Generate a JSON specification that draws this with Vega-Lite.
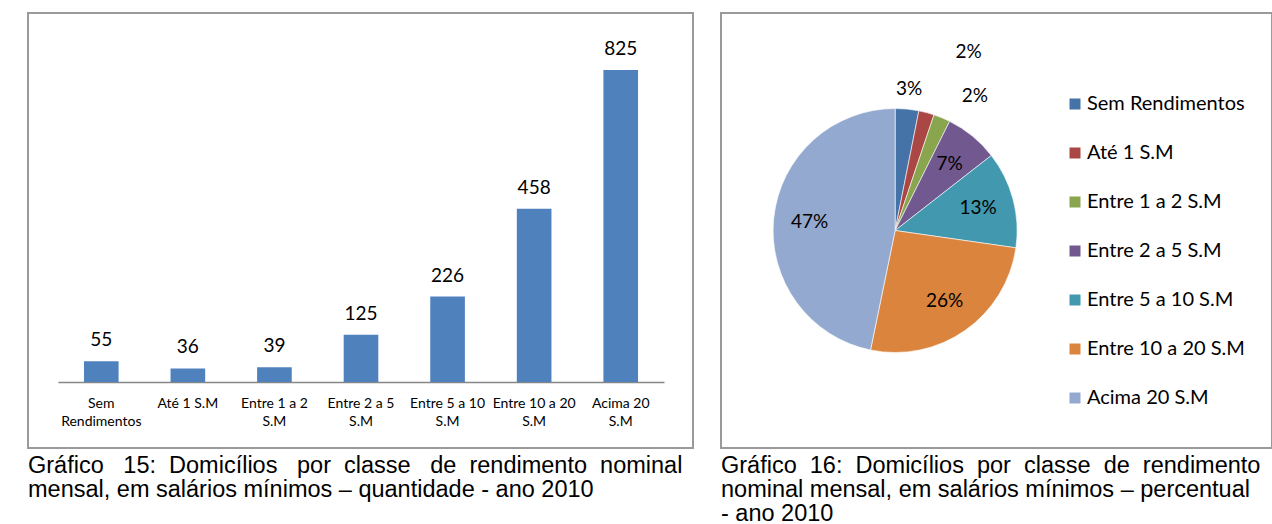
{
  "$schema": "https://vega.github.io/schema/vega-lite/v6.json",
  "padding": {"left": 27, "top": 12, "right": 0, "bottom": 0},
  "background": "white",
  "spacing": 26,
  "datasets": {
    "d": [
      {"classe": "Sem Rendimentos", "n": 55, "pct": "3%", "ord": 1},
      {"classe": "Até 1 S.M", "n": 36, "pct": "2%", "ord": 2},
      {"classe": "Entre 1 a 2 S.M", "n": 39, "pct": "2%", "ord": 3},
      {"classe": "Entre 2 a 5 S.M", "n": 125, "pct": "7%", "ord": 4},
      {"classe": "Entre 5 a 10 S.M", "n": 226, "pct": "13%", "ord": 5},
      {"classe": "Entre 10 a 20 S.M", "n": 458, "pct": "26%", "ord": 6},
      {"classe": "Acima 20 S.M", "n": 825, "pct": "47%", "ord": 7}
    ]
  },
  "config": {
    "view": {"stroke": "#9a9a9a", "strokeWidth": 2},
    "title": {"orient": "bottom", "anchor": "start", "font": "Liberation Sans", "fontSize": 23.5, "fontWeight": "normal", "color": "#000", "lineHeight": 24, "offset": 6}
  },
  "hconcat": [
    {
      "width": 665,
      "height": 435,
      "title": {"text": ["Gráfico \u00a0\u00a015: \u00a0Domicílios \u00a0\u00a0por \u00a0classe \u00a0\u00a0de \u00a0rendimento \u00a0nominal", "mensal, em salários mínimos – quantidade - ano 2010"]},
      "data": {"name": "d"},
      "encoding": {
        "x": {
          "field": "classe", "type": "nominal", "sort": null,
          "scale": {"range": [30, 636], "paddingInner": 0.6, "paddingOuter": 0.3},
          "axis": {
            "title": null, "orient": "bottom", "offset": -66, "ticks": false, "tickSize": 0,
            "domainColor": "#868686", "domainWidth": 1.5,
            "labelAngle": 0, "labelFont": "Lato", "labelFontSize": 14, "labelColor": "#000",
            "labelPadding": 14, "labelLineHeight": 18, "labelBaseline": "top",
            "labelExpr": "datum.value == 'Sem Rendimentos' ? ['Sem', 'Rendimentos'] : datum.value == 'Até 1 S.M' ? datum.value : [replace(datum.value, ' S.M', ''), 'S.M']"
          }
        },
        "y": {
          "field": "n", "type": "quantitative",
          "scale": {"domain": [0, 825], "range": [369, 57], "nice": false, "zero": true},
          "axis": null
        }
      },
      "layer": [
        {"mark": {"type": "bar", "color": "#4F81BD"}},
        {
          "mark": {"type": "text", "baseline": "alphabetic", "dy": -15, "font": "Lato", "fontSize": 19, "color": "#000"},
          "encoding": {"text": {"field": "n", "type": "quantitative"}}
        }
      ]
    },
    {
      "width": 551,
      "height": 435,
      "title": {"text": ["Gráfico \u00a016: \u00a0Domicílios \u00a0por \u00a0classe \u00a0de \u00a0rendimento", "nominal mensal, em salários mínimos – percentual", "- ano 2010"]},
      "data": {"name": "d"},
      "encoding": {
        "theta": {"field": "n", "type": "quantitative", "stack": true},
        "order": {"field": "ord", "type": "quantitative"},
        "x": {"datum": 0.316, "type": "quantitative", "scale": {"domain": [0, 1], "nice": false, "zero": true}, "axis": null}
      },
      "layer": [
        {
          "mark": {"type": "arc", "outerRadius": 122, "stroke": "#ffffff", "strokeWidth": 0.6},
          "encoding": {
            "color": {
              "field": "classe", "type": "nominal",
              "scale": {
                "domain": ["Sem Rendimentos", "Até 1 S.M", "Entre 1 a 2 S.M", "Entre 2 a 5 S.M", "Entre 5 a 10 S.M", "Entre 10 a 20 S.M", "Acima 20 S.M"],
                "range": ["#4572A7", "#AA4643", "#89A54E", "#71588F", "#4198AF", "#DB843D", "#93A9CF"]
              },
              "legend": {
                "orient": "none", "legendX": 1037, "legendY": 81, "title": null,
                "symbolType": "square", "symbolSize": 121, "symbolStrokeWidth": 0,
                "labelFont": "Lato", "labelFontSize": 20, "labelColor": "#000",
                "rowPadding": 29, "labelOffset": 2, "padding": 0, "labelLimit": 300
              }
            }
          }
        },
        {
          "mark": {"type": "text", "radius": 86, "font": "Lato", "fontSize": 19, "color": "#000"},
          "encoding": {"text": {"condition": {"test": "datum.n >= 100", "field": "pct"}, "value": ""}}
        },
        {
          "mark": {"type": "text", "radius": 142, "font": "Lato", "fontSize": 19, "color": "#000"},
          "encoding": {"text": {"condition": {"test": "datum.ord == 1", "field": "pct"}, "value": ""}}
        },
        {
          "mark": {"type": "text", "radius": 185, "dx": 26, "font": "Lato", "fontSize": 19, "color": "#000"},
          "encoding": {"text": {"condition": {"test": "datum.ord == 2", "field": "pct"}, "value": ""}}
        },
        {
          "mark": {"type": "text", "radius": 140, "dx": 26, "dy": -5, "font": "Lato", "fontSize": 19, "color": "#000"},
          "encoding": {"text": {"condition": {"test": "datum.ord == 3", "field": "pct"}, "value": ""}}
        }
      ]
    }
  ]
}
